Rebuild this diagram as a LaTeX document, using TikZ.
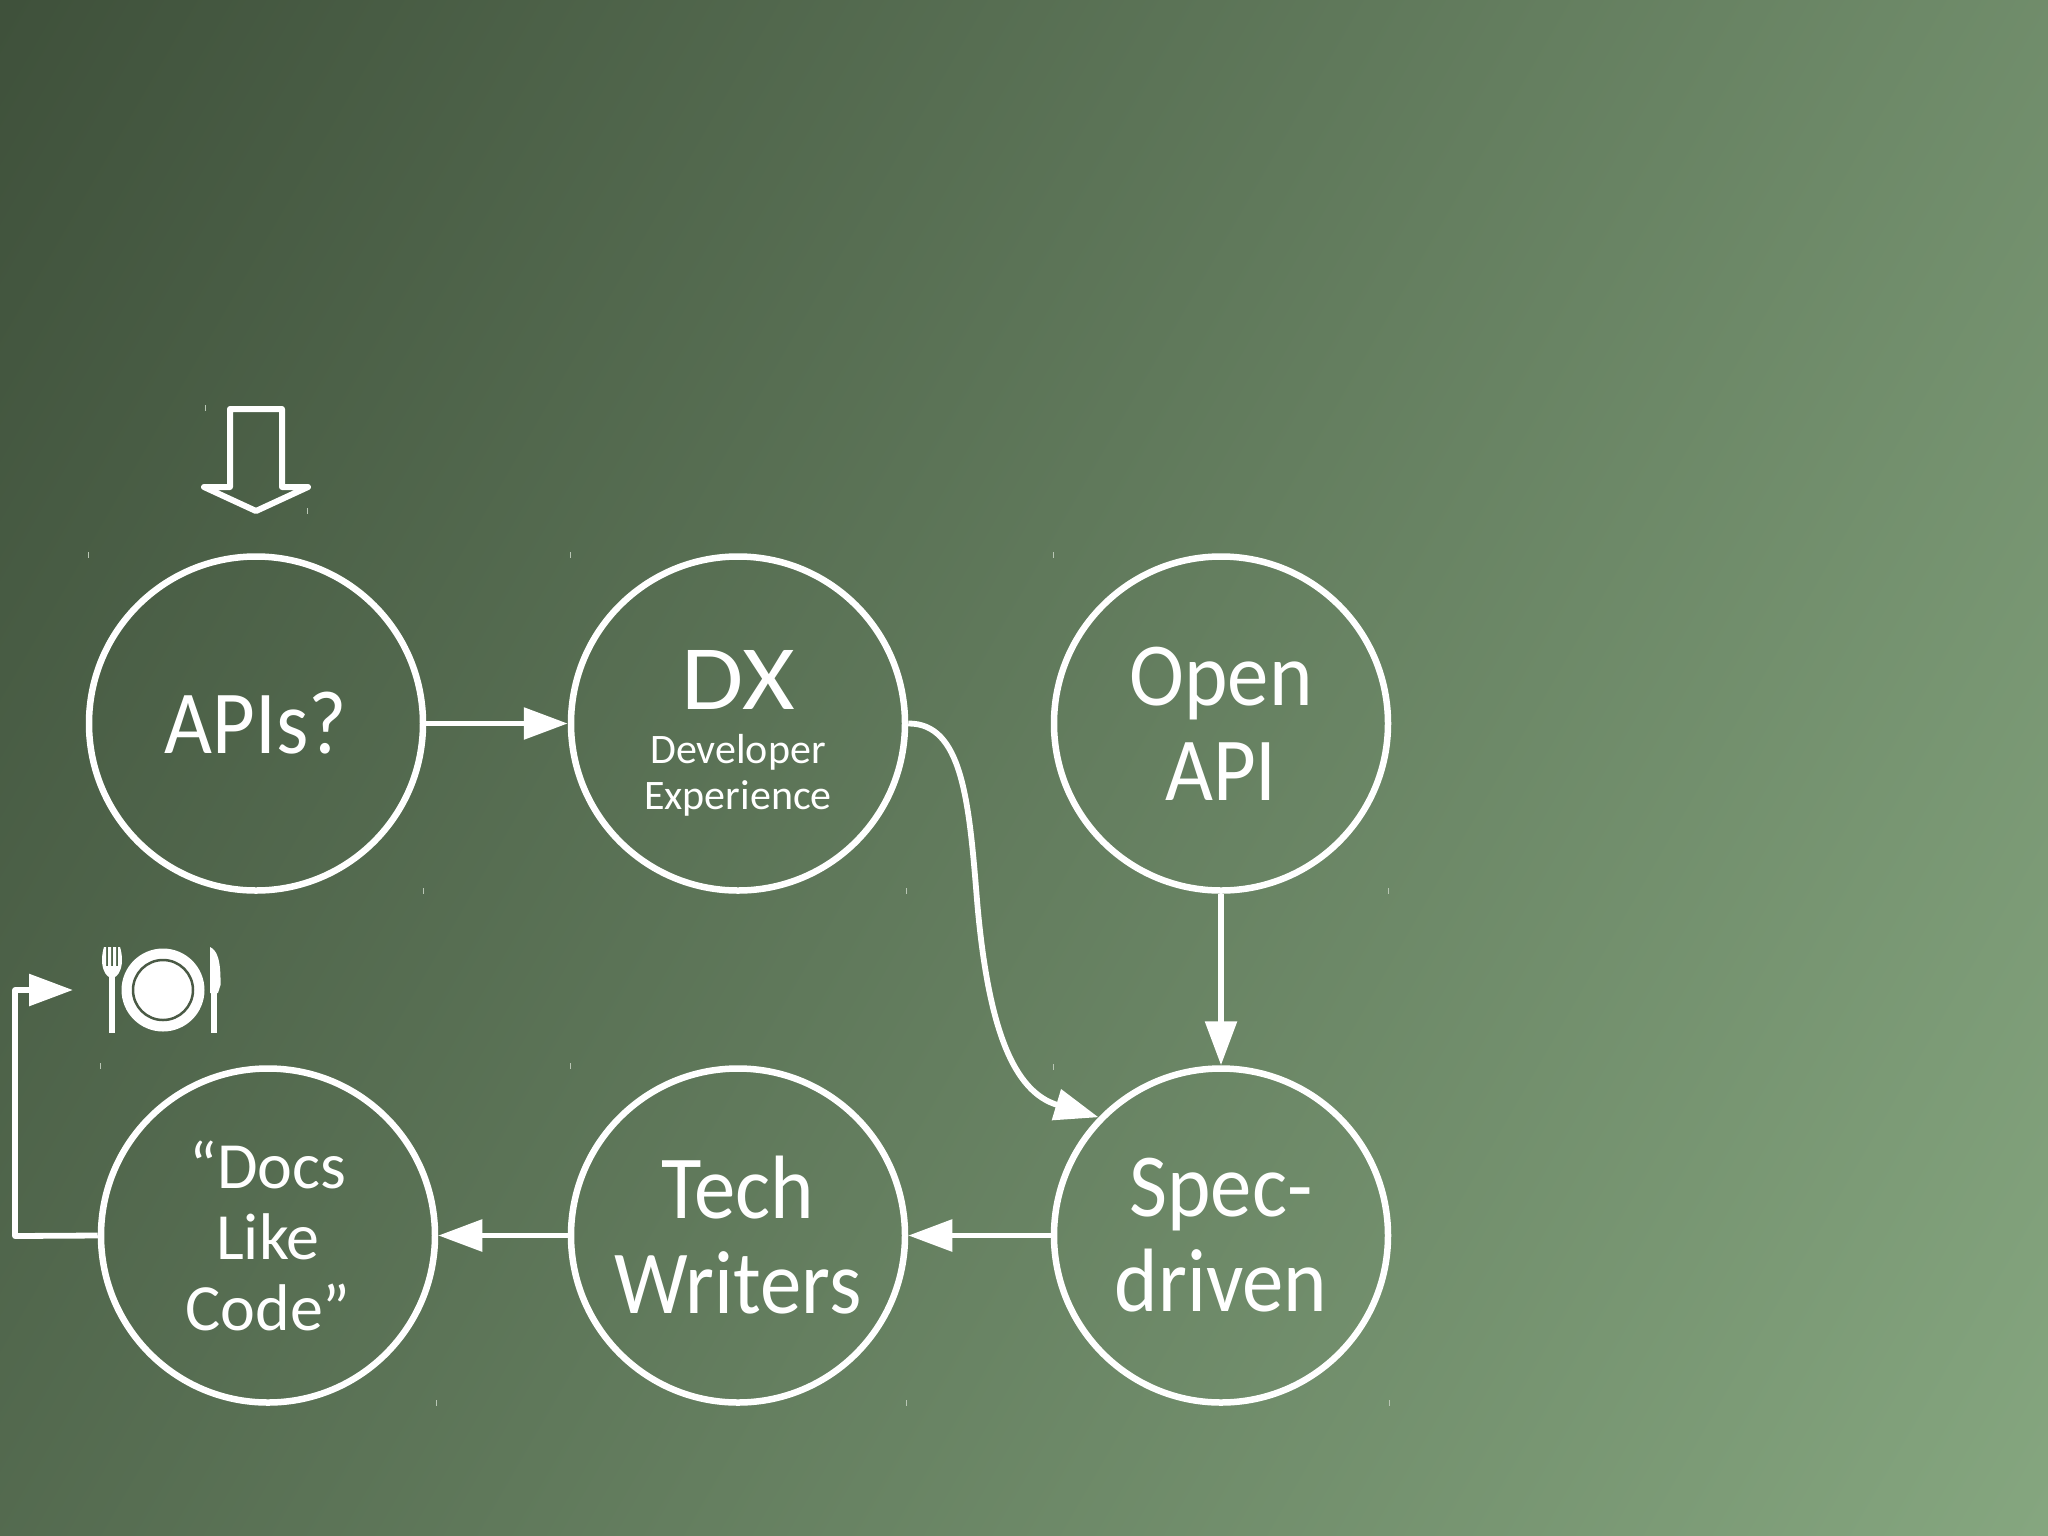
\documentclass[tikz,border=0pt]{standalone}
\usepackage{fontspec}
\setmainfont{Carlito}
\newfontfamily\narrowface[FakeStretch=0.92]{Carlito}
\newfontfamily\wideface[FakeStretch=1.1]{Carlito}
\usetikzlibrary{arrows.meta}
\definecolor{bgA}{HTML}{3F513B}
\definecolor{bgB}{HTML}{85A67F}
\definecolor{tickc}{HTML}{B9C6B5}
\definecolor{ringc}{HTML}{4A5A45}
\newcommand{\fs}[2]{\fontsize{#1}{#2}\selectfont}
\tikzset{
  x=1pt,y=-1pt,
  bubble/.style={circle,draw=white,line width=6.5pt,minimum size=334pt,inner sep=0pt,outer sep=3.25pt,text=white,align=center},
  bigtext/.style={font=\narrowface\fs{90}{95}},
  labeltext/.style={text=white,align=center,inner sep=0pt},
  link/.style={draw=white,line width=5.8pt,line join=round,-{Triangle[length=44pt,width=31pt,fill=white]}},
  tick/.style={draw=tickc,line width=0.7pt},
}
\begin{document}
\begin{tikzpicture}
\useasboundingbox (0,0) rectangle (2048,1535);
\begin{scope}
\clip (0,0) rectangle (2048,1535);
\shade[top color=bgA,bottom color=bgB,shading angle=60] (-246,-503) rectangle (2294,2037);
\end{scope}
% faint ticks
\foreach \p in {(205,405),(307,508),(88,552),(570,552),(1053,552),(423,888),(906,888),(1388,888),(100,1063),(570,1063),(1053,1064),(436,1400),(906,1400),(1389,1400)}{
  \draw[tick] \p -- ++(0,6);
}
\node[bubble,bigtext] (apis) at (256,723.5) {APIs?};
\node[bubble] (dx) at (738,723.5) {};
\node[labeltext] (dxlabel) at (738,733) {\wideface\fs{92}{84}DX\\[24pt]\rmfamily\fs{42}{46}Developer\\[9pt]\fs{42}{46}Experience};
\node[bubble,bigtext] (open) at (1221,723.5) {Open\\API};
\node[bubble,bigtext] (spec) at (1221,1235.5) {Spec-\\driven};
\node[bubble,bigtext] (tech) at (738,1235.5) {Tech\\Writers};
\node[bubble,font=\fs{66}{71}] (docs) at (268,1235.5) {“Docs\\Like\\Code”};
\coordinate (meal) at (73,990);
\draw[link] (apis) -- (dx);
\draw[link] (open) -- (spec);
\draw[link] (spec) -- (tech);
\draw[link] (tech) -- (docs);
\draw[link] (dx.east) .. controls (962,723) and (969,800) .. (977,900) .. controls (988,1030) and (1014,1092) .. (spec.136);
\draw[link] (docs.west) -- (15,1236) -- (15,990) -- (meal);
% big arrow
\draw[white,line width=6pt,line join=round] (230,409) -- (282,409) -- (282,487) -- (308,487) -- (256,511) -- (204,487) -- (230,487) -- cycle;
% place setting
\fill[white] (163,990) circle (41.5);
\draw[ringc,line width=2.5pt] (163,990) circle (30);
\fill[white] (109,975) rectangle (115,1033);
\fill[white] (102,960) .. controls (102,972) and (108,978) .. (112,978) .. controls (116,978) and (122,972) .. (122,960) .. controls (122,955) and (121,950) .. (120,947) -- (118,947) -- (118,966) -- (116,966) -- (116,947) -- (113,947) -- (113,966) -- (111,966) -- (111,947) -- (108,947) -- (108,966) -- (106,966) -- (106,947) -- (104,947) .. controls (103,950) and (102,955) .. (102,960) -- cycle;
\fill[white] (211,1033) rectangle (217,990);
\fill[white] (210,947) .. controls (217,950) and (221,960) .. (220.5,985) -- (218,993) -- (210,993) -- cycle;
\end{tikzpicture}
\end{document}
